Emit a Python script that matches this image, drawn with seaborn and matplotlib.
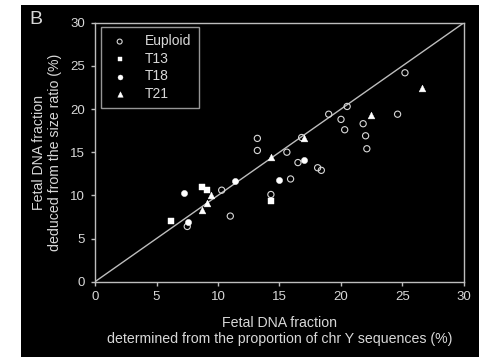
import matplotlib
matplotlib.use("Agg")
import matplotlib.pyplot as plt
import seaborn as sns
import pandas as pd
from matplotlib.patches import Rectangle

# Data
euploid_x = [25.2, 20.5, 19.0, 20.0, 20.3, 21.8, 22.0, 22.1, 24.6, 13.2, 13.2, 16.8,
             15.6, 16.5, 18.1, 18.4, 15.9, 14.3, 10.3, 11.0, 7.5]
euploid_y = [24.2, 20.3, 19.4, 18.8, 17.6, 18.3, 16.9, 15.4, 19.4, 16.6, 15.2, 16.7,
             15.0, 13.8, 13.2, 12.9, 11.9, 10.1, 10.6, 7.6, 6.4]
t13_x = [6.2, 8.7, 9.1, 14.3]
t13_y = [7.0, 11.0, 10.6, 9.4]
t18_x = [7.2, 7.6, 11.4, 15.0, 17.0]
t18_y = [10.3, 6.9, 11.7, 11.8, 14.1]
t21_x = [26.6, 22.4, 17.0, 14.3, 9.4, 9.1, 8.7]
t21_y = [22.4, 19.3, 16.6, 14.5, 10.1, 9.1, 8.3]

groups = [("Euploid", euploid_x, euploid_y, "o"),
          ("T13", t13_x, t13_y, "s"),
          ("T18", t18_x, t18_y, "o"),
          ("T21", t21_x, t21_y, "^")]

sns.set_theme(style="ticks")
plt.rcParams['font.family'] = ['Liberation Sans', 'DejaVu Sans']
fg = "#d8d8d8"

fig = plt.figure(figsize=(4.79, 3.57), dpi=100)
fig.patch.set_facecolor("white")
fig.patches.append(Rectangle((21/479, 0), 1 - 21/479, 352/357, transform=fig.transFigure,
                             facecolor="black", edgecolor="none", zorder=-10))
ax = fig.add_axes([95/479, 75.3/357, 369/479, 259/357])
ax.set_facecolor("black")

ax.plot([0, 30], [0, 30], color="#bdbdbd", lw=1.0, zorder=1)

for name, xs, ys, m in groups:
    df = pd.DataFrame({"x": xs, "y": ys})
    if name == "Euploid":
        sns.scatterplot(data=df, x="x", y="y", ax=ax, marker="o", s=20,
                        facecolor="none", edgecolor=fg, linewidth=0.8, label=name, zorder=3)
    else:
        sns.scatterplot(data=df, x="x", y="y", ax=ax, marker=m, s=20 if m != "^" else 24,
                        color="white", edgecolor="white", linewidth=0.3, label=name, zorder=4)

ax.set_xlim(0, 30)
ax.set_ylim(0, 30)
ax.set_xticks(range(0, 31, 5))
ax.set_yticks(range(0, 31, 5))
for s in ax.spines.values():
    s.set_color("#bdbdbd")
    s.set_linewidth(1.0)
ax.tick_params(colors="#bdbdbd", labelcolor=fg, labelsize=9.5, length=3, width=1,
               direction="out", pad=4)

ax.set_xlabel("Fetal DNA fraction\ndetermined from the proportion of chr Y sequences (%)",
              color=fg, fontsize=10.2, labelpad=9, linespacing=1.2)
ax.set_ylabel("Fetal DNA fraction\ndeduced from the size ratio (%)",
              color=fg, fontsize=10.2, labelpad=6, linespacing=1.2)

leg = ax.legend(loc="upper left", bbox_to_anchor=(0.016, 0.985), frameon=True,
                fontsize=10, labelcolor=fg, handletextpad=1.0, borderpad=0.55,
                labelspacing=0.25, borderaxespad=0, markerscale=0.8, fancybox=False,
                handlelength=1.6)
leg.get_frame().set_facecolor("black")
leg.get_frame().set_edgecolor("#bdbdbd")
leg.get_frame().set_linewidth(1.0)

fig.text(36/479, 1 - 20/357, "B", color=fg, fontsize=14, ha="center", va="center")

fig.savefig("out.png", dpi=100, facecolor=fig.get_facecolor())
